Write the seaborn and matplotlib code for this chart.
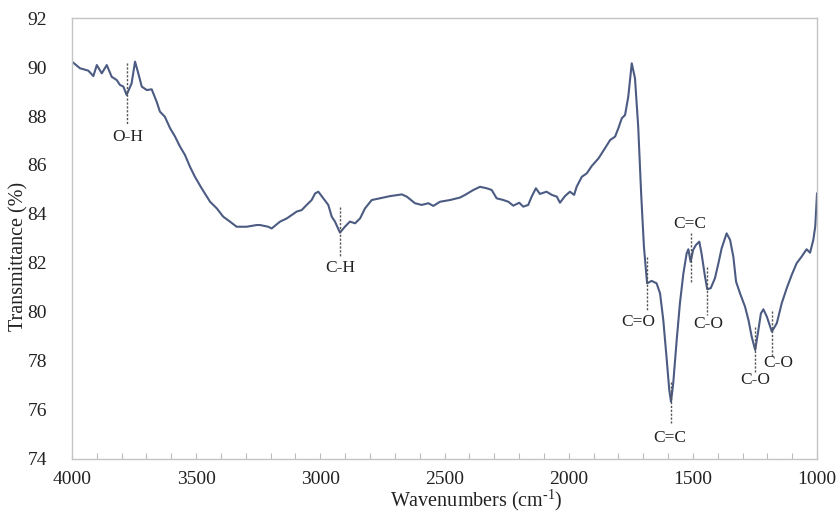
import numpy as np
import pandas as pd
import matplotlib
matplotlib.use("Agg")
import matplotlib.pyplot as plt
from matplotlib.ticker import MultipleLocator
import seaborn as sns

wavenumber = [4000, 3968, 3934, 3914, 3900, 3880, 3860, 3840, 3820, 3807, 3793, 3780,
              3760, 3746, 3733, 3719, 3699, 3679, 3659, 3646, 3626, 3605, 3585, 3565,
              3545, 3525, 3505, 3478, 3444, 3417, 3391, 3364, 3337, 3297, 3256, 3243,
              3210, 3196, 3162, 3135, 3115, 3095, 3075, 3055, 3035, 3021, 3008, 2988,
              2968, 2954, 2941, 2921, 2901, 2881, 2860, 2840, 2820, 2793, 2760, 2719,
              2672, 2652, 2619, 2592, 2565, 2545, 2518, 2478, 2438, 2417, 2384, 2357,
              2330, 2310, 2290, 2263, 2243, 2223, 2199, 2183, 2163, 2149, 2132, 2116,
              2089, 2068, 2048, 2035, 2015, 1995, 1978, 1968, 1947, 1927, 1907, 1880,
              1854, 1833, 1813, 1800, 1786, 1773, 1760, 1746, 1733, 1720, 1708, 1700,
              1697, 1689, 1684, 1666, 1646, 1632, 1619, 1605, 1595, 1588, 1579, 1565,
              1552, 1538, 1525, 1518, 1509, 1499, 1488, 1474, 1465, 1451, 1442, 1428,
              1411, 1397, 1384, 1364, 1350, 1337, 1326, 1310, 1290, 1276, 1263, 1249,
              1236, 1226, 1216, 1202, 1182, 1162, 1142, 1122, 1102, 1082, 1062, 1042,
              1028, 1015, 1007, 1000]
transmittance = [90.22, 89.95, 89.85, 89.63, 90.08, 89.74, 90.08, 89.60, 89.47, 89.27, 89.20, 88.86,
                 89.33, 90.22, 89.74, 89.20, 89.06, 89.09, 88.58, 88.18, 87.97, 87.50, 87.16, 86.75,
                 86.41, 85.93, 85.52, 85.05, 84.50, 84.23, 83.89, 83.69, 83.48, 83.48, 83.55, 83.55,
                 83.48, 83.41, 83.69, 83.82, 83.96, 84.10, 84.16, 84.37, 84.57, 84.84, 84.91, 84.64,
                 84.37, 83.89, 83.69, 83.24, 83.48, 83.69, 83.62, 83.82, 84.23, 84.57, 84.64, 84.73,
                 84.80, 84.71, 84.44, 84.37, 84.44, 84.33, 84.50, 84.57, 84.67, 84.78, 84.98, 85.11,
                 85.05, 84.98, 84.64, 84.57, 84.50, 84.34, 84.46, 84.30, 84.37, 84.71, 85.05, 84.82,
                 84.91, 84.78, 84.71, 84.46, 84.73, 84.91, 84.78, 85.11, 85.52, 85.66, 85.96, 86.27,
                 86.68, 87.02, 87.16, 87.50, 87.91, 88.04, 88.79, 90.15, 89.54, 87.56, 84.80, 83.20,
                 82.67, 81.71, 81.17, 81.27, 81.17, 80.76, 79.67, 78.04, 76.82, 76.34, 77.09, 78.86,
                 80.36, 81.58, 82.39, 82.56, 82.05, 82.53, 82.73, 82.87, 82.39, 81.44, 80.93, 80.97,
                 81.38, 81.99, 82.60, 83.21, 82.94, 82.26, 81.24, 80.76, 80.22, 79.67, 78.99, 78.45,
                 79.27, 79.94, 80.11, 79.81, 79.20, 79.54, 80.36, 80.97, 81.51, 81.99, 82.26, 82.56,
                 82.42, 82.94, 83.50, 84.85]

# peak annotations: label, peak wavenumber, dashed-line span (T), label anchor (wn, T)
peak_labels = ["O-H", "C-H", "C=O", "C=C", "C=C", "C-O", "C-O", "C-O"]
peak_wn = [3777, 2921, 1683, 1588, 1509, 1442, 1249, 1182]
dash_top = [90.16, 84.29, 82.24, 77.14, 83.22, 81.84, 79.39, 80.04]
dash_bottom = [87.63, 82.24, 80.08, 75.47, 81.22, 79.88, 77.51, 78.16]
label_wn = [3777, 2921, 1719, 1592, 1511, 1439, 1249, 1157]
label_t = [87.14, 81.80, 79.59, 74.86, 83.60, 79.51, 77.22, 77.92]

x_ticks = [4000, 3500, 3000, 2500, 2000, 1500, 1000]
y_ticks = [74, 76, 78, 80, 82, 84, 86, 88, 90, 92]

df = pd.DataFrame({"wavenumber": wavenumber, "transmittance": transmittance})

sns.set_theme(style="white")
plt.rcParams["font.family"] = ["Liberation Serif", "DejaVu Serif"]
plt.rcParams["mathtext.fontset"] = "custom"
plt.rcParams["mathtext.rm"] = "Liberation Serif"
plt.rcParams["mathtext.it"] = "Liberation Serif:italic"

fig = plt.figure(figsize=(8.39, 5.16), dpi=100)
ax = fig.add_axes([0.0858, 0.1105, 0.888, 0.8546])

line_color = "#4b5b82"
sns.lineplot(data=df, x="wavenumber", y="transmittance", ax=ax, color=line_color,
             linewidth=1.5, sort=False, estimator=None)

for lab, pw, t0, t1, lw_, lt in zip(peak_labels, peak_wn, dash_top, dash_bottom, label_wn, label_t):
    ax.plot([pw, pw], [t0, t1], color="#555555", linestyle=(0, (1.6, 1.2)), linewidth=1.0)
    ax.text(lw_, lt, lab, ha="center", va="center", fontsize=12.5, color="#222222")

ax.set_xlim(4000, 1000)
ax.set_ylim(74, 92)
ax.set_xticks(x_ticks)
ax.set_yticks(y_ticks)
ax.xaxis.set_minor_locator(MultipleLocator(100))
ax.tick_params(axis="x", which="both", direction="in", length=4, width=0.8,
               color="#bbbbbb", bottom=True, top=False, labelsize=14, pad=9,
               labelcolor="#222222")
ax.tick_params(axis="y", which="both", left=False, labelsize=14, pad=12,
               labelcolor="#222222")
for s in ax.spines.values():
    s.set_color("#c4c4c4")
    s.set_linewidth(1.0)

ax.set_xlabel("Wavenumbers (cm$^{\\text{-1}}$)", fontsize=14.5, color="#222222")
ax.set_ylabel("Transmittance (%)", fontsize=14.5, color="#222222")
ax.xaxis.set_label_coords(0.543, -0.066)
ax.yaxis.set_label_coords(-0.059, 0.46)

fig.savefig("out.png", dpi=100)
